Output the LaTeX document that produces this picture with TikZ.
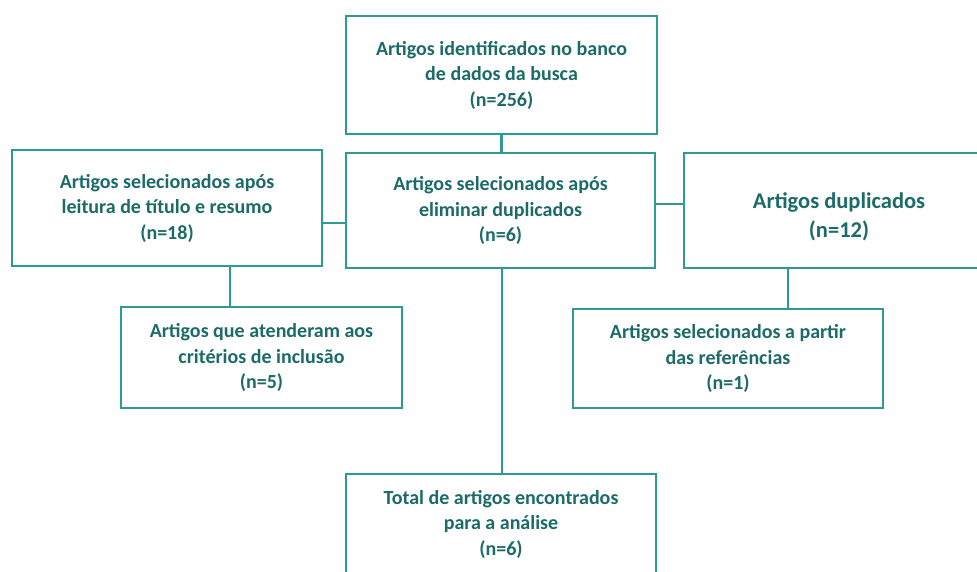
\documentclass[tikz,border=0pt]{standalone}
\usepackage{fontspec}
\setmainfont{Carlito}
\definecolor{boxline}{HTML}{2E9A95}
\definecolor{boxtext}{HTML}{1B6B68}
\begin{document}
\begin{tikzpicture}[x=1pt,y=1pt,
  flowbox/.style={draw=boxline, line width=2.2pt, fill=white, text=boxtext,
    align=center, inner sep=0pt, font=\bfseries\fontsize{20}{25.5}\selectfont},
  link/.style={draw=boxline, line width=2.2pt}]
\useasboundingbox (0,0) rectangle (977,-572);
\node[flowbox, minimum width=311pt, minimum height=118pt] (top) at (501.5,-75)
  {Artigos identificados no banco\\de dados da busca\\(n=256)};
\node[flowbox, minimum width=309pt, minimum height=115pt] (center) at (500.5,-210.5)
  {Artigos selecionados após\\eliminar duplicados\\(n=6)};
\node[flowbox, minimum width=310pt, minimum height=116pt] (left) at (167,-208)
  {Artigos selecionados após\\leitura de título e resumo\\(n=18)};
\node[flowbox, minimum width=310pt, minimum height=115pt,
  font=\bfseries\fontsize{22.5}{29}\selectfont] (right) at (839,-210.5)
  {\rule{0pt}{28pt}Artigos duplicados\\(n=12)};
\node[flowbox, minimum width=281pt, minimum height=101pt] (lowleft) at (261.5,-357.5)
  {Artigos que atenderam aos\\critérios de inclusão\\(n=5)};
\node[flowbox, minimum width=310pt, minimum height=99pt] (lowright) at (728,-358.5)
  {Artigos selecionados a partir\\das referências\\(n=1)};
\node[flowbox, minimum width=310pt, minimum height=100pt] (bottom) at (501,-524)
  {Total de artigos encontrados\\para a análise\\(n=6)};
\draw[link] (top.south) -- (top.south |- center.north);
\draw[link] ([yshift=-15pt]left.east) -- ([yshift=-12.5pt]center.west);
\draw[link] ([yshift=6.5pt]center.east) -- ([yshift=6.5pt]right.west);
\draw[link] ([xshift=63pt]left.south) -- ([xshift=63pt]left.south |- lowleft.north);
\draw[link] ([xshift=-51pt]right.south) -- ([xshift=-51pt]right.south |- lowright.north);
\draw[link] ([xshift=1.5pt]center.south) -- ([xshift=1.5pt]center.south |- bottom.north);
\end{tikzpicture}
\end{document}
